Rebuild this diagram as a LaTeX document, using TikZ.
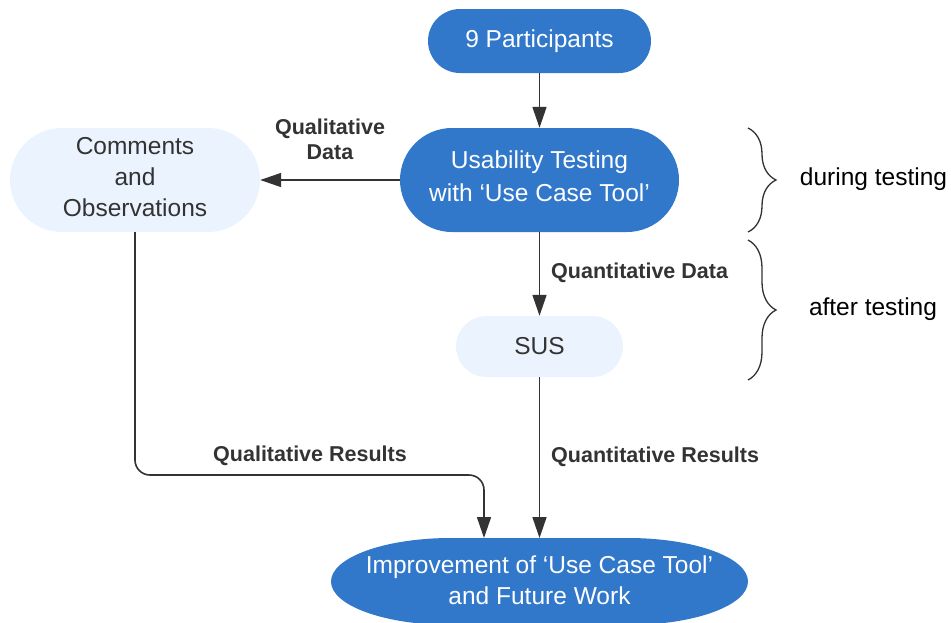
\documentclass[tikz,border=0pt]{standalone}
\usepackage{fontspec}
\setmainfont{Liberation Sans}
\usetikzlibrary{arrows.meta,decorations.pathreplacing}
\definecolor{darkblue}{HTML}{3178CB}
\definecolor{paleblue}{HTML}{EBF4FE}
\definecolor{ink}{HTML}{333333}
\begin{document}
\begin{tikzpicture}[x=1pt,y=-1pt,
  bodyfont/.style={font=\fontsize{24.5}{31}\selectfont},
  darkpill/.style={rectangle, fill=darkblue, text=white, inner sep=0pt, align=center, bodyfont},
  palepill/.style={rectangle, fill=paleblue, text=ink, inner sep=0pt, align=center, bodyfont},
  lab/.style={text=ink, inner sep=0pt, align=center, font=\bfseries\fontsize{21.5}{25}\selectfont},
  plain/.style={text=black, inner sep=0pt, bodyfont},
  conn/.style={draw=ink, line width=1.6pt, -{Triangle[length=21pt,width=14pt]}},
  bracket/.style={draw=ink, line width=1.3pt, decorate, decoration={brace, amplitude=28pt}}
]
\useasboundingbox (0,0) rectangle (951,622);

% process boxes
\node[darkpill, minimum width=223pt, minimum height=64pt, rounded corners=32pt] (part) at (539.5,41) {9 Participants};
\node[darkpill, minimum width=279pt, minimum height=104pt, rounded corners=52pt] (use) at (539.5,180) {};
\node[darkpill, font=\fontsize{24.5}{33}\selectfont] (usetext) at (539.5,176) {Usability Testing\\with ‘Use Case Tool’};
\node[palepill, minimum width=250pt, minimum height=104pt, rounded corners=52pt] (com) at (135,180) {};
\node[palepill, fill=none] (comtext) at (135,177) {Comments\\and\\Observations};
\node[palepill, minimum width=167pt, minimum height=61pt, rounded corners=30.5pt] (sus) at (539.5,346.5) {SUS};

% final box with elliptical corners
\fill[darkblue] (451,538) -- (628,538)
  arc[start angle=-90, end angle=90, x radius=120, y radius=43.5] -- (451,625)
  arc[start angle=90, end angle=270, x radius=120, y radius=43.5] -- cycle;
\node[darkpill, fill=none] (impr) at (539.5,580) {Improvement of ‘Use Case Tool’\\and Future Work};
\coordinate (imprL) at (484,538);
\coordinate (imprM) at (539.5,538);
\coordinate (bend) at (484,475);

% connectors
\draw[conn] (part.south) -- (use.north);
\draw[conn] (use.west) -- (com.east);
\draw[conn] (use.south) -- (sus.north);
\draw[conn] (sus.south) -- (imprM);
\draw[conn, rounded corners=15pt] (com.south) |- (bend) -- (imprL);

% connector labels
\node[lab] (qdata) at (330,139) {Qualitative\\Data};
\node[lab, anchor=west] (qndata) at (551,273) {Quantitative Data};
\node[lab, anchor=west] (qnres) at (551,457) {Quantitative Results};
\node[lab] (qlres) at (310,456) {Qualitative Results};

% phase braces
\coordinate (b1a) at (748,128);
\coordinate (b1b) at (748,232);
\coordinate (b2a) at (748,240);
\coordinate (b2b) at (748,380);
\draw[bracket] (b1a) -- (b1b);
\draw[bracket] (b2a) -- (b2b);
\node[plain] (during) at (873.5,179) {during testing};
\node[plain] (after) at (873,309) {after testing};
\end{tikzpicture}
\end{document}
